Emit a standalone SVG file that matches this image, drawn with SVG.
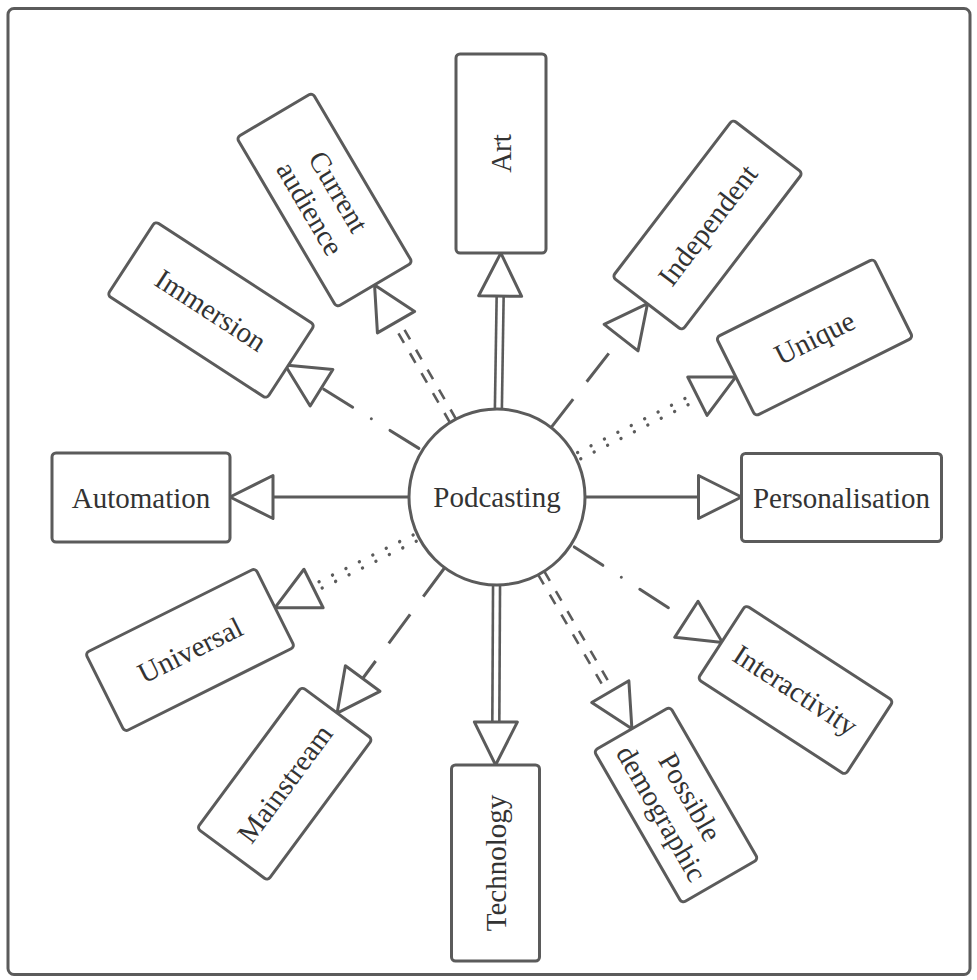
<svg xmlns="http://www.w3.org/2000/svg" width="977" height="980" viewBox="0 0 977 980">
<style>
.frame{fill:#fff;stroke:#5b5b5b;stroke-width:3}
.box{fill:#fff;stroke:#5b5b5b;stroke-width:3}
.lbl{font-family:"Liberation Serif",serif;font-size:29px;fill:#333;text-anchor:middle}
.ln{fill:none;stroke:#5b5b5b;stroke-width:3}
.dbl{fill:none;stroke:#5b5b5b;stroke-width:2.6}
.dd{stroke-dasharray:11 12}
.dot{stroke-dasharray:0.01 15;stroke-linecap:round;stroke-width:3.4}
.ldash{stroke-dasharray:36 22}
.dashdot{stroke-dasharray:34 22 0.01 22;stroke-linecap:round}
.head{fill:#fff;stroke:#5b5b5b;stroke-width:3;stroke-linejoin:round}
</style>
<rect class="frame" x="8" y="8.5" width="962" height="966" rx="6"/>
<g id="connectors">
  <g transform="translate(497,497) rotate(-89.1)">
    <line class="dbl" x1="88" y1="-3.5" x2="201" y2="-3.5"/><line class="dbl" x1="88" y1="3.5" x2="201" y2="3.5"/>
    <polygon class="head" points="244,0 201,-21.5 201,21.5"/>
  </g>
  <g transform="translate(497,497) rotate(-52.1)">
    <line class="ln ldash" x1="88" y1="0" x2="202" y2="0"/>
    <polygon class="head" points="245,0 202,-21.5 202,21.5"/>
  </g>
  <g transform="translate(497,497) rotate(-26.7)">
    <line class="dbl dot" x1="92" y1="-3.5" x2="224" y2="-3.5"/><line class="dbl dot" x1="92" y1="3.5" x2="224" y2="3.5"/>
    <polygon class="head" points="267.3,0 224.3,-21.5 224.3,21.5"/>
  </g>
  <g transform="translate(497,497) rotate(0)">
    <line class="ln" x1="88" y1="0" x2="201.5" y2="0"/>
    <polygon class="head" points="244.5,0 201.5,-21.5 201.5,21.5"/>
  </g>
  <g transform="translate(497,497) rotate(32.85)">
    <line class="ln dashdot" x1="92" y1="0" x2="225.4" y2="0"/>
    <polygon class="head" points="268.4,0 225.4,-21.5 225.4,21.5"/>
  </g>
  <g transform="translate(497,497) rotate(59.8)">
    <line class="dbl dd" x1="88" y1="-3.5" x2="225.2" y2="-3.5"/><line class="dbl dd" x1="88" y1="3.5" x2="225.2" y2="3.5"/>
    <polygon class="head" points="268.2,0 225.2,-21.5 225.2,21.5"/>
  </g>
  <g transform="translate(497,497) rotate(90.3)">
    <line class="dbl" x1="88" y1="-3.5" x2="225" y2="-3.5"/><line class="dbl" x1="88" y1="3.5" x2="225" y2="3.5"/>
    <polygon class="head" points="268,0 225,-21.5 225,21.5"/>
  </g>
  <g transform="translate(497,497) rotate(126.5)">
    <line class="ln ldash" x1="88" y1="0" x2="225.8" y2="0"/>
    <polygon class="head" points="268.8,0 225.8,-21.5 225.8,21.5"/>
  </g>
  <g transform="translate(497,497) rotate(153.5)">
    <line class="dbl dot" x1="92" y1="-3.5" x2="205" y2="-3.5"/><line class="dbl dot" x1="92" y1="3.5" x2="205" y2="3.5"/>
    <polygon class="head" points="248,0 205,-21.5 205,21.5"/>
  </g>
  <g transform="translate(497,497) rotate(180)">
    <line class="ln" x1="88" y1="0" x2="224" y2="0"/>
    <polygon class="head" points="267,0 224,-21.5 224,21.5"/>
  </g>
  <g transform="translate(497,497) rotate(-148.1)">
    <line class="ln dashdot" x1="92" y1="0" x2="206.7" y2="0"/>
    <polygon class="head" points="249.7,0 206.7,-21.5 206.7,21.5"/>
  </g>
  <g transform="translate(497,497) rotate(-120)">
    <line class="dbl dd" x1="88" y1="-3.5" x2="201.9" y2="-3.5"/><line class="dbl dd" x1="88" y1="3.5" x2="201.9" y2="3.5"/>
    <polygon class="head" points="244.9,0 201.9,-21.5 201.9,21.5"/>
  </g>
</g>
<g id="podcasting">
  <circle class="box" cx="497" cy="497" r="88"/>
  <text class="lbl" x="497" y="507">Podcasting</text>
</g>
<g id="art" transform="translate(501,153.5) rotate(-90)">
  <rect class="box" x="-99.5" y="-45" width="199" height="90" rx="4"/>
  <text class="lbl" x="0" y="10">Art</text>
</g>
<g id="independent" transform="translate(707.5,225) rotate(-52.6)">
  <rect class="box" x="-99" y="-44" width="198" height="88" rx="4"/>
  <text class="lbl" x="0" y="10">Independent</text>
</g>
<g id="unique" transform="translate(814.5,337.5) rotate(-26.5)">
  <rect class="box" x="-88" y="-44" width="176" height="88" rx="4"/>
  <text class="lbl" x="0" y="10">Unique</text>
</g>
<g id="personalisation" transform="translate(841.5,497.5)">
  <rect class="box" x="-100" y="-44" width="200" height="88" rx="4"/>
  <text class="lbl" x="0" y="10">Personalisation</text>
</g>
<g id="interactivity" transform="translate(795.5,690) rotate(33)">
  <rect class="box" x="-88" y="-44" width="176" height="88" rx="4"/>
  <text class="lbl" x="0" y="10">Interactivity</text>
</g>
<g id="possible-demographic" transform="translate(676,805) rotate(60)">
  <rect class="box" x="-88" y="-44" width="176" height="88" rx="4"/>
  <text class="lbl" x="0" y="-6.5">Possible</text>
  <text class="lbl" x="0" y="26.5">demographic</text>
</g>
<g id="technology" transform="translate(495.5,863) rotate(-90)">
  <rect class="box" x="-98" y="-44" width="196" height="88" rx="4"/>
  <text class="lbl" x="0" y="10">Technology</text>
</g>
<g id="mainstream" transform="translate(284.7,783.7) rotate(-53.5)">
  <rect class="box" x="-88" y="-44" width="176" height="88" rx="4"/>
  <text class="lbl" x="0" y="10">Mainstream</text>
</g>
<g id="universal" transform="translate(190,650) rotate(-26.5)">
  <rect class="box" x="-95" y="-44" width="190" height="88" rx="4"/>
  <text class="lbl" x="0" y="10">Universal</text>
</g>
<g id="automation" transform="translate(141,497.5)">
  <rect class="box" x="-89" y="-44.5" width="178" height="89" rx="4"/>
  <text class="lbl" x="0" y="10">Automation</text>
</g>
<g id="immersion" transform="translate(211,310) rotate(33)">
  <rect class="box" x="-95" y="-44" width="190" height="88" rx="4"/>
  <text class="lbl" x="0" y="10">Immersion</text>
</g>
<g id="current-audience" transform="translate(324.5,200) rotate(59.5)">
  <rect class="box" x="-98.5" y="-44" width="197" height="88" rx="4"/>
  <text class="lbl" x="0" y="-6.5">Current</text>
  <text class="lbl" x="0" y="26.5">audience</text>
</g>
</svg>
